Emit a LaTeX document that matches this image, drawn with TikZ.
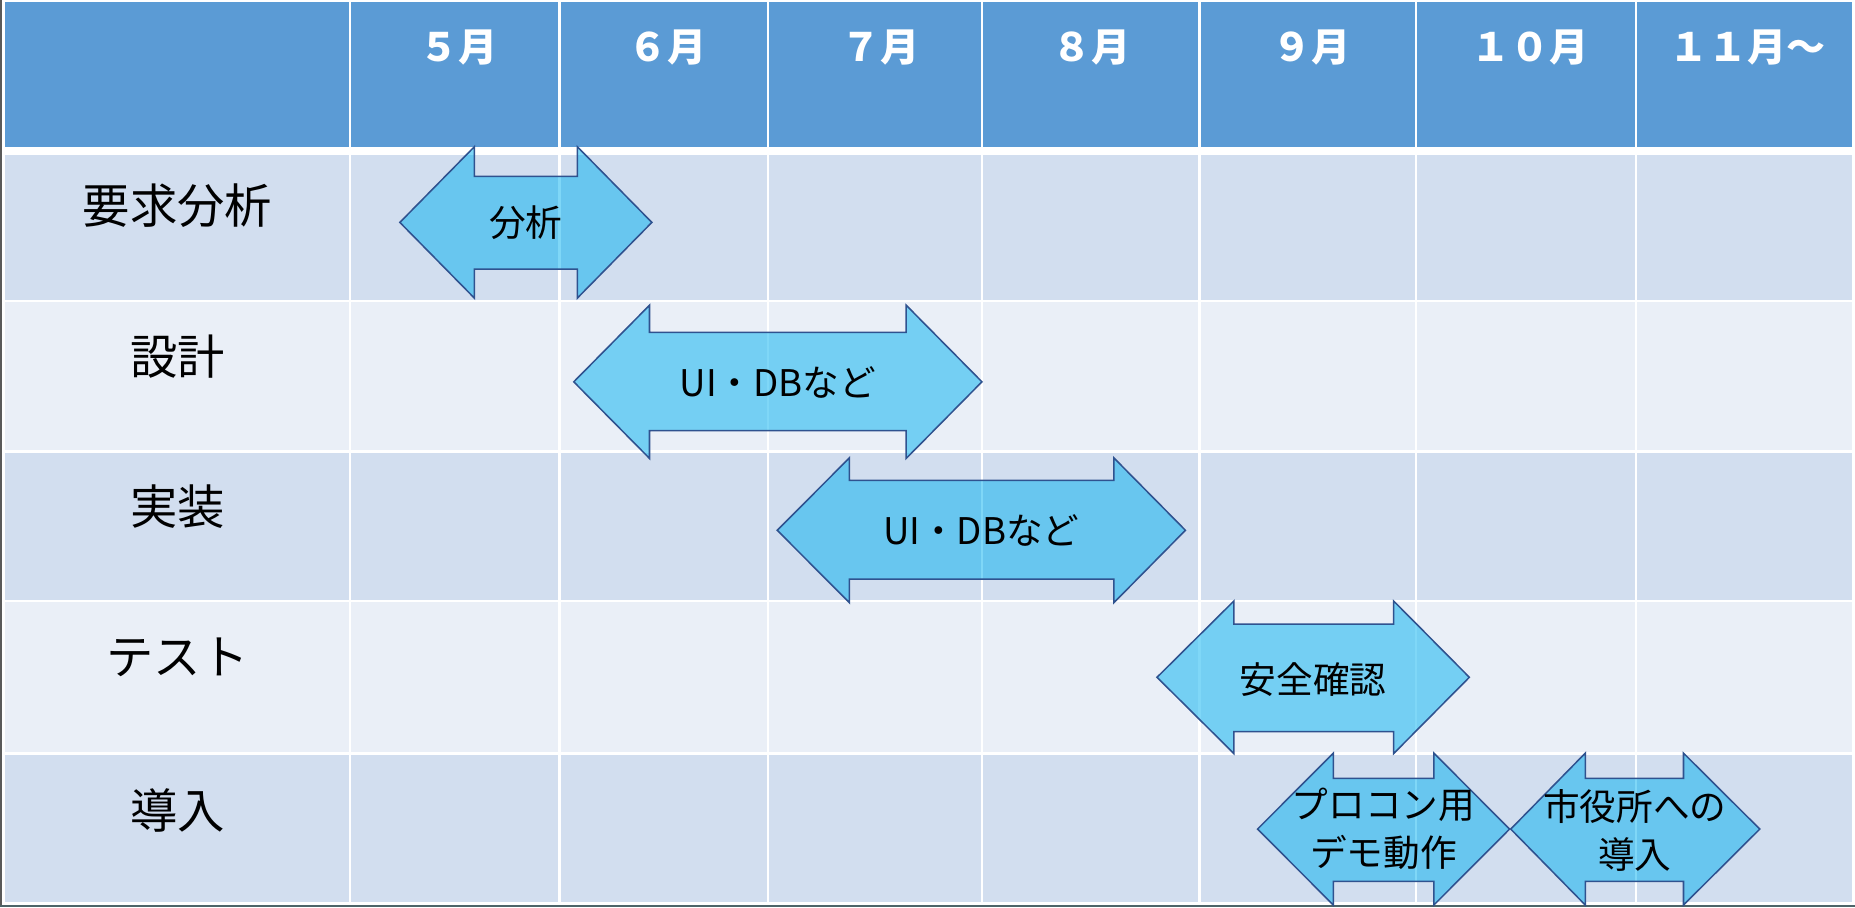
\documentclass[tikz,border=0pt]{standalone}
\usepackage{fontspec}
\setmainfont{Noto Sans CJK JP}
\definecolor{hdrblue}{HTML}{5B9BD5}
\definecolor{banddark}{HTML}{D2DEEF}
\definecolor{bandlight}{HTML}{EAEFF7}
\definecolor{arrfill}{HTML}{00B0F0}
\definecolor{arrline}{HTML}{2F528F}
\definecolor{edgegray}{HTML}{5A5A5A}
\definecolor{edgeteal}{HTML}{4D6468}
\newcommand{\ganttarrow}[8]{%
  \draw[arrshape] (#1,{(#5+#8)/2}) -- (#2,#5) -- (#2,#6) -- (#3,#6) -- (#3,#5)
    -- (#4,{(#5+#8)/2}) -- (#3,#8) -- (#3,#7) -- (#2,#7) -- (#2,#8) -- cycle;}
\begin{document}
\begin{tikzpicture}[x=1pt,y=-1pt,
  hdrtext/.style={text=white,font=\fontsize{33}{33}\selectfont\bfseries,inner sep=0pt},
  rowtext/.style={text=black,font=\fontsize{40}{40}\selectfont,inner sep=0pt},
  arrtext/.style={text=black,font=\fontsize{31}{41}\selectfont,inner sep=0pt,align=center},
  arrshape/.style={fill=arrfill,fill opacity=0.5,draw=arrline,line width=1.3pt,line join=miter},
  gridline/.style={white,line width=2pt}]
\useasboundingbox (0,0) rectangle (1568,767);
\fill[white] (0,0) rectangle (1568,767);
\fill[edgegray] (0,0) rectangle (1.7,767);
\fill[edgeteal] (0,765) rectangle (1568,767);
% table
\fill[hdrblue]   (4.2,1.7) rectangle (1565.5,124);
\fill[banddark]  (4.2,131) rectangle (1565.5,253.5);
\fill[bandlight] (4.2,255.5) rectangle (1565.5,380.5);
\fill[banddark]  (4.2,382.5) rectangle (1565.5,507);
\fill[bandlight] (4.2,509) rectangle (1565.5,636);
\fill[banddark]  (4.2,638) rectangle (1565.5,762.5);
\foreach \x in {296,473,649,830,1014,1197,1383}
  \draw[gridline] (\x,0) -- (\x,764);
% header
\node[hdrtext] (m5)  at (387.5,40) {５月};
\node[hdrtext] (m6)  at (564,40) {６月};
\node[hdrtext] (m7)  at (744,40) {７月};
\node[hdrtext] (m8)  at (922.5,40) {８月};
\node[hdrtext] (m9)  at (1108.5,40) {９月};
\node[hdrtext] (m10) at (1293,40) {１０月};
\node[hdrtext] (m11) at (1477,40) {１１月～};
% row labels
\node[rowtext] (r1) at (150,174) {要求分析};
\node[rowtext] (r2) at (150,301) {設計};
\node[rowtext] (r3) at (150,428) {実装};
\node[rowtext] (r4) at (150,556) {テスト};
\node[rowtext] (r5) at (150,685) {導入};
% arrows
\ganttarrow{338}{401}{488}{551}{124}{149}{227.5}{252}
\ganttarrow{485}{549}{766}{830}{258}{281}{364}{387.5}
\ganttarrow{657}{718}{941.5}{1002}{387}{406}{489.5}{509.5}
\ganttarrow{978}{1043}{1178}{1242}{508}{527.5}{618.5}{637}
\ganttarrow{1063}{1127}{1212}{1276}{636.6}{658}{745}{765}
\ganttarrow{1277}{1340}{1423}{1487.5}{636.6}{658}{745}{765}
\node[arrtext] (t1) at (444.5,188) {分析};
\node[arrtext] (t2) at (657.5,323) {UI・DBなど};
\node[arrtext] (t3) at (829.5,448) {UI・DBなど};
\node[arrtext] (t4) at (1110,574) {安全確認};
\node[arrtext] (t5) at (1169.5,700.5) {プロコン用\\デモ動作};
\node[arrtext] (t6) at (1382,702) {市役所への\\導入};
\end{tikzpicture}
\end{document}
